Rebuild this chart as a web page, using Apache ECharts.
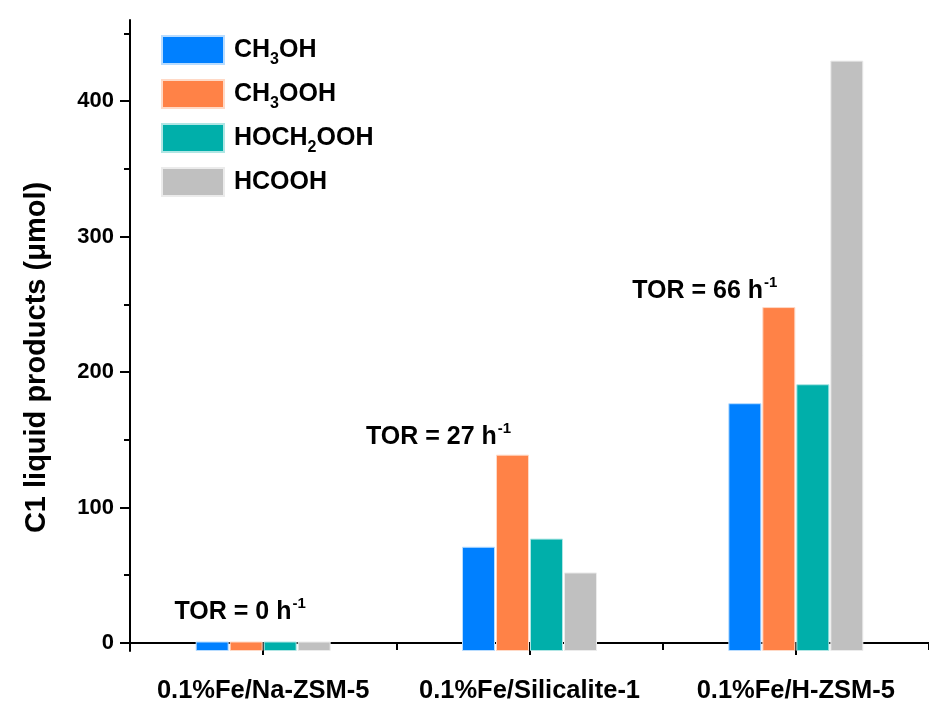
<!DOCTYPE html>
<html>
<head>
<meta charset="utf-8">
<script src="https://cdn.jsdelivr.net/npm/echarts@6/dist/echarts.min.js"></script>
<style>html,body{margin:0;padding:0;background:#fff}#c{width:929px;height:708px}</style>
</head>
<body>
<div id="c"></div>
<script>
// ---- data ----
var categories = ['0.1%Fe/Na-ZSM-5', '0.1%Fe/Silicalite-1', '0.1%Fe/H-ZSM-5'];
var seriesNames = ['CH3OH', 'CH3OOH', 'HOCH2OOH', 'HCOOH'];
var ch3oh    = [1, 71, 177];
var ch3ooh   = [1, 139, 248];
var hoch2ooh = [1, 77, 191];
var hcooh    = [1, 52, 430];
var yTicks      = [0, 100, 200, 300, 400];
var yMinorTicks = [50, 150, 250, 350, 450];
var torText  = ['TOR = 0 h', 'TOR = 27 h', 'TOR = 66 h'];
var torY     = [23, 152, 260];   // vertical anchor of each annotation (axis units)
var yTitle = 'C1 liquid products (\u03bcmol)';

// ---- styles ----
var colors  = ['#0080FF', '#FF8247', '#00AFAA', '#C0C0C0'];
var borders = ['#B8DCFF', '#FFD9C6', '#B0E6E4', '#EBEBEB'];
var torOffsetX = [-23, -91, -91];
var FONT = '"Liberation Sans", Arial, sans-serif';

var values = [ch3oh, ch3ooh, hoch2ooh, hcooh];
var chart = echarts.init(document.getElementById('c'), null, {renderer: 'canvas'});

var series = seriesNames.map(function (n, i) {
  return {
    name: n, type: 'bar', data: values[i],
    barWidth: 33, barGap: '3%',
    itemStyle: {color: colors[i], borderColor: borders[i], borderWidth: 1},
    emphasis: {disabled: true}
  };
});
series.push({
  type: 'scatter', name: 'tor', symbolSize: 0, silent: true,
  itemStyle: {opacity: 1},
  data: torText.map(function (t, i) {
    return {value: [i, torY[i]], label: {offset: [torOffsetX[i], 0]}};
  }),
  label: {
    show: true, position: 'inside', color: '#000',
    formatter: function (p) { return '{n|' + torText[p.dataIndex] + '}{sup|-1}'; },
    rich: {
      n: {fontFamily: FONT, fontWeight: 'bold', fontSize: 25, color: '#000'},
      sup: {fontFamily: FONT, fontWeight: 'bold', fontSize: 15, color: '#000', padding: [0, 0, 16, 1]}
    }
  }
});

chart.setOption({
  animation: false,
  backgroundColor: '#fff',
  grid: {left: 130, right: -8, top: 20, bottom: 57, containLabel: false},
  legend: {
    orient: 'vertical', left: 161, top: 35, padding: 0,
    data: seriesNames,
    icon: 'rect', itemWidth: 62, itemHeight: 28, itemGap: 11,
    selectedMode: false,
    formatter: function (n) { return n.replace(/(\d)/g, '{s|$1}'); },
    textStyle: {
      fontFamily: FONT, fontWeight: 'bold', fontSize: 25, color: '#000',
      padding: [0, 0, 0, 5],
      rich: {s: {fontFamily: FONT, fontWeight: 'bold', fontSize: 16, color: '#000', padding: [20, 0, 0, 0]}}
    }
  },
  xAxis: [{
    type: 'category', data: categories, boundaryGap: true,
    axisLine: {show: true, lineStyle: {color: '#000', width: 2}},
    axisTick: {show: true, alignWithLabel: true, length: 12, lineStyle: {color: '#000', width: 2}},
    axisLabel: {interval: 0, hideOverlap: false, fontFamily: FONT, fontWeight: 'bold', fontSize: 25.5, color: '#000', margin: 27},
    splitLine: {show: false}
  }, {
    type: 'category', data: categories, boundaryGap: true, position: 'bottom',
    axisLine: {show: false},
    axisTick: {show: true, alignWithLabel: false, interval: 0, length: 7, lineStyle: {color: '#000', width: 2}},
    axisLabel: {show: false},
    splitLine: {show: false}
  }],
  yAxis: [{
    type: 'value', min: -6, max: 460, startValue: -6,
    name: yTitle, nameLocation: 'middle', nameGap: 79, nameRotate: 90,
    nameTextStyle: {fontFamily: FONT, fontWeight: 'bold', fontSize: 29, color: '#000', padding: [0, 44, 0, 0]},
    axisLine: {show: true, lineStyle: {color: '#000', width: 2}},
    axisTick: {show: true, customValues: yTicks, length: 10, lineStyle: {color: '#000', width: 2}},
    axisLabel: {customValues: yTicks, fontFamily: FONT, fontWeight: 'bold', fontSize: 22, color: '#000', margin: 16},
    splitLine: {show: false}
  }, {
    type: 'value', min: -6, max: 460, position: 'left',
    axisLine: {show: false},
    axisTick: {show: true, customValues: yMinorTicks, length: 6, lineStyle: {color: '#000', width: 2}},
    axisLabel: {show: false},
    splitLine: {show: false}
  }],
  series: series
});
</script>
</body>
</html>
